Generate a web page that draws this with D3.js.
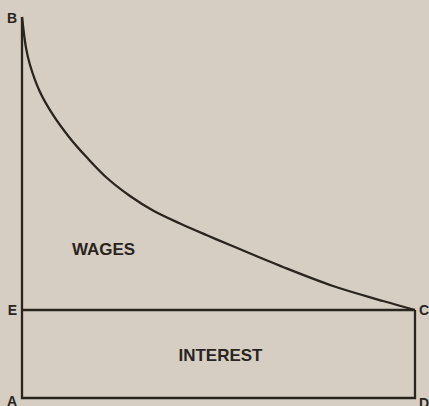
<!DOCTYPE html>
<html><head><meta charset="utf-8">
<script src="https://cdn.jsdelivr.net/npm/d3@7"></script>
<style>
html,body{margin:0;padding:0;background:#d6cec2;}
svg{display:block;}
</style></head>
<body>
<svg id="chart" width="429" height="406"></svg>
<script>
// Curve B→C (wages boundary), in diagram units (x: 0..100, y: 0..100)
const curveX = [0, 1.02, 2.04, 4.58, 7.89, 12.21, 16.54, 21.63, 27.48, 33.33, 40.2, 47.07, 53.69, 66.41, 79.13, 91.86, 100];
const curveY = [100, 91.9, 87.4, 80.3, 74.3, 68.2, 63.1, 57.74, 53.02, 49.21, 45.8, 42.7, 39.82, 34.38, 29.4, 25.46, 23.1];
// Interest level (height of E and C)
const interestLevel = 23.1;
// Corner labels
const cornerNames = ["B", "E", "A", "C", "D"];
const cornerX = [0, 0, 0, 100, 100];
const cornerY = [100, interestLevel, 0, interestLevel, 0];
// Area labels
const areaNames = ["WAGES", "INTEREST"];
const areaX = [12.7, 50.5];
const areaY = [38.6, 10.8];

const svg = d3.select("#chart");
const x = d3.scaleLinear().domain([0, 100]).range([22, 415]);
const y = d3.scaleLinear().domain([0, 100]).range([398, 17]);
const ink = "#2a241e";

const line = d3.line().x(d => x(d[0])).y(d => y(d[1]));

// Frame: B–A–D–C and E–C
svg.append("path")
  .attr("d", line([[0, 100], [0, 0], [100, 0], [100, interestLevel]]))
  .attr("fill", "none").attr("stroke", ink).attr("stroke-width", 2.3)
  .attr("stroke-linejoin", "miter");
svg.append("path")
  .attr("d", line([[0, interestLevel], [100, interestLevel]]))
  .attr("fill", "none").attr("stroke", ink).attr("stroke-width", 2.3);

// Curve
const curvePts = curveX.map((v, i) => [v, curveY[i]]);
svg.append("path")
  .attr("d", d3.line().x(d => x(d[0])).y(d => y(d[1])).curve(d3.curveCatmullRom.alpha(0.5))(curvePts))
  .attr("fill", "none").attr("stroke", ink).attr("stroke-width", 2.3);

// Corner labels
const font = "'Liberation Sans', Arial, sans-serif";
const dyMap = {B: 6, E: 5, A: 8, C: 5, D: 10};
cornerNames.forEach((n, i) => {
  const left = cornerX[i] === 0;
  svg.append("text")
    .attr("x", left ? x(cornerX[i]) - 5 : x(cornerX[i]) + 4)
    .attr("y", y(cornerY[i]) + dyMap[n])
    .attr("text-anchor", left ? "end" : "start")
    .attr("font-family", font).attr("font-weight", "bold")
    .attr("font-size", 14).attr("fill", ink)
    .text(n);
});

// Area labels
areaNames.forEach((n, i) => {
  svg.append("text")
    .attr("x", x(areaX[i]))
    .attr("y", y(areaY[i]))
    .attr("text-anchor", i === 0 ? "start" : "middle")
    .attr("dominant-baseline", "middle")
    .attr("font-family", font).attr("font-weight", "bold")
    .attr("font-size", 17).attr("fill", ink)
    .text(n);
});
</script>
</body></html>
